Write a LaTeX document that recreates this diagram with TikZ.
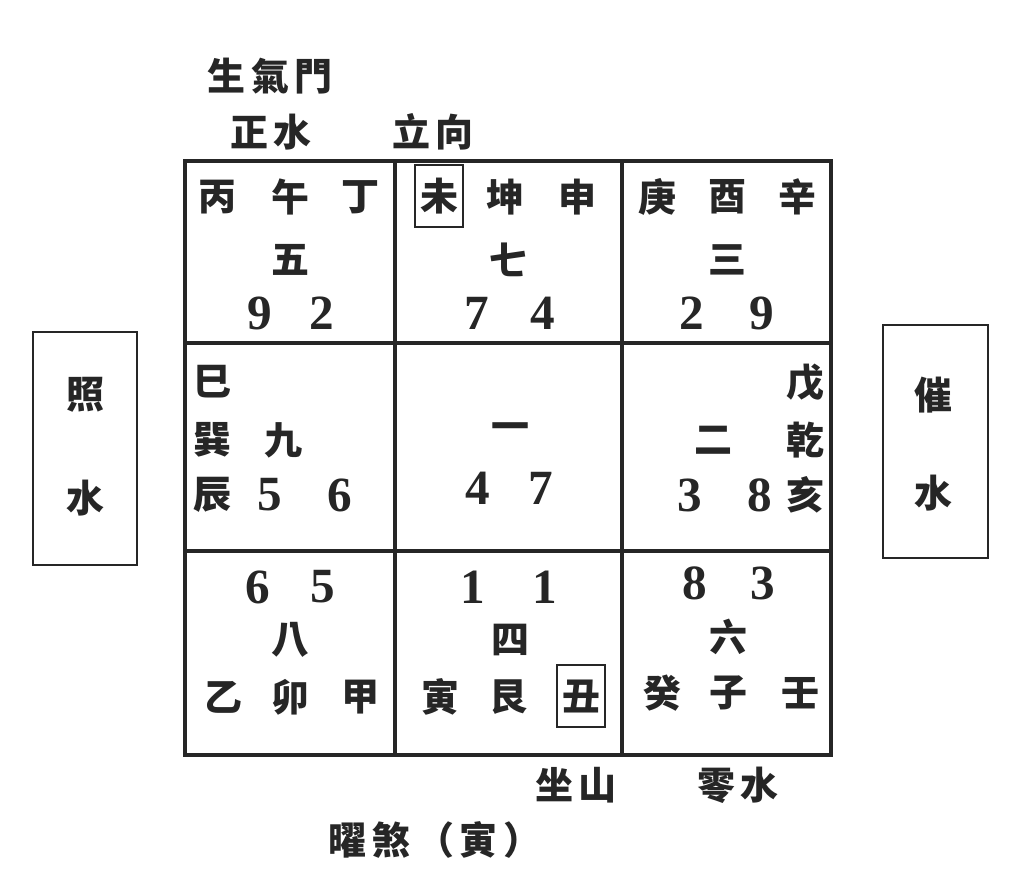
\documentclass[tikz,border=0pt]{standalone}
\usepackage{fontspec}
\newfontfamily\cjk{Noto Sans CJK TC}
\newfontfamily\digitfont{Liberation Serif}
\usetikzlibrary{positioning}
\definecolor{Ink}{HTML}{262626}
\newcommand\hangap{\hspace{4pt}}
\tikzset{
  han/.style={font=\cjk\bfseries\fontsize{27}{27}\selectfont,text=Ink,inner sep=0pt},
  num/.style={font=\digitfont\bfseries\fontsize{35}{35}\selectfont,text=Ink,inner sep=0pt},
  gridline/.style={draw=Ink,line width=2.3pt},
  side/.style={draw=Ink,line width=1.3pt},
  tagbox/.style={han,draw=Ink,line width=.9pt,minimum width=1.2cm,minimum height=1.55cm},
}

\begin{document}
\begin{tikzpicture}[x=.025cm,y=-.025cm]
  \useasboundingbox[fill=white] (0,0) rectangle (1009,881);
  % luoshu grid
  \draw[gridline] (185,161) rectangle (831,755);
  \draw[gridline] (395,161) -- (395,755) (622,161) -- (622,755);
  \draw[gridline] (185,343) -- (831,343) (185,551) -- (831,551);
  % titles above
  \node[han] (gate) at (270,76) {生\hangap 氣\hangap 門};
  \node[han] (zheng) at (271,132) {正\hangap 水};
  \node[han] (lixiang) at (433,132) {立\hangap 向};
  % top row
  \node[han] (bing) at (217,197) {丙};
  \node[han] (wu) at (290,197) {午};
  \node[han] (ding) at (360,197) {丁};
  \node[han] (p5) at (290,260) {五};
  \node[num] (n92a) at (260,313) {9};
  \node[num] (n92b) at (322,313) {2};
  \node[tagbox] (wei) at (439,196) {未};
  \node[han] (kun) at (505,197) {坤};
  \node[han] (shen) at (577,197) {申};
  \node[han] (p7) at (508,260) {七};
  \node[num] (n74a) at (477,313) {7};
  \node[num] (n74b) at (543,313) {4};
  \node[han] (geng) at (657,197) {庚};
  \node[han] (you) at (727,197) {酉};
  \node[han] (xin) at (797,197) {辛};
  \node[han] (p3) at (727,260) {三};
  \node[num] (n29a) at (692,313) {2};
  \node[num] (n29b) at (762,313) {9};
  % middle row
  \node[han] (si) at (212,382) {巳};
  \node[han] (xun) at (212,440) {巽};
  \node[han] (p9) at (283,440) {九};
  \node[han] (chen) at (212,495) {辰};
  \node[num] (n56a) at (270,495) {5};
  \node[num] (n56b) at (340,495) {6};
  \node[han] (p1) at (510,432) {一};
  \node[num] (n47a) at (478,488) {4};
  \node[num] (n47b) at (541,488) {7};
  \node[han] (wuu) at (805,383) {戊};
  \node[han] (p2) at (713,440) {二};
  \node[han] (qian) at (805,440) {乾};
  \node[num] (n38a) at (690,495) {3};
  \node[num] (n38b) at (760,495) {8};
  \node[han] (hai) at (805,495) {亥};
  % bottom row
  \node[num] (n65a) at (258,587) {6};
  \node[num] (n65b) at (323,587) {5};
  \node[han] (p8) at (290,640) {八};
  \node[han] (yi) at (223,697) {乙};
  \node[han] (mao) at (290,697) {卯};
  \node[han] (jia) at (360,697) {甲};
  \node[num] (n11a) at (473,587) {1};
  \node[num] (n11b) at (545,587) {1};
  \node[han] (p4) at (510,640) {四};
  \node[han] (yin) at (440,697) {寅};
  \node[han] (gen) at (508,697) {艮};
  \node[tagbox] (chou) at (581,696) {丑};
  \node[num] (n83a) at (695,583) {8};
  \node[num] (n83b) at (763,583) {3};
  \node[han] (p6) at (728,637) {六};
  \node[han] (gui) at (662,693) {癸};
  \node[han] (zi) at (728,693) {子};
  \node[han] (ren) at (800,693) {壬};
  % side boxes
  \draw[side] (33,332) rectangle (137,565);
  \node[han] (zhao) at (85,395) {照};
  \node[han] (shuiL) at (85,498) {水};
  \draw[side] (883,325) rectangle (988,558);
  \node[han] (cui) at (933,395) {催};
  \node[han] (shuiR) at (933,493) {水};
  % below
  \node[han] (zuoshan) at (576,785) {坐\hangap 山};
  \node[han] (lingshui) at (738,785) {零\hangap 水};
  \node[han] (yaosha) at (435,840) {曜\hangap 煞\hangap （\hangap 寅\hangap ）};
\end{tikzpicture}
\end{document}
